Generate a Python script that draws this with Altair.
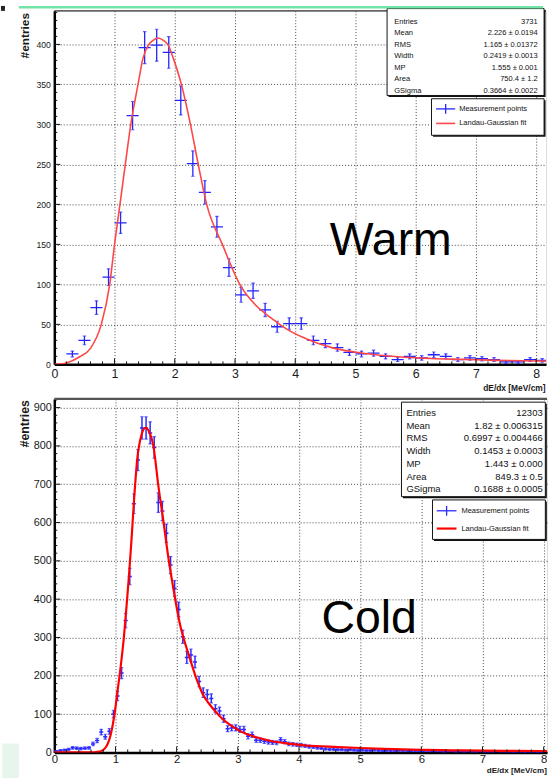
import altair as alt
import numpy as np
import pandas as pd

SANS = "Liberation Sans, Arial, Helvetica, sans-serif"

# ---------------- Warm run: dE/dx histogram, 0.2 MeV/cm bins ----------------
warm_centers = [0.3, 0.5, 0.7, 0.9, 1.1, 1.3, 1.5, 1.7, 1.9, 2.1, 2.3, 2.5, 2.7, 2.9,
                3.1, 3.3, 3.5, 3.7, 3.9, 4.1, 4.3, 4.5, 4.7, 4.9, 5.1, 5.3, 5.5, 5.7,
                5.9, 6.1, 6.3, 6.5, 6.7, 6.9, 7.1, 7.3, 7.5, 7.7, 7.9, 8.1]
warm_counts = [13, 30, 71, 109, 177, 311, 396, 399, 390, 330, 251, 215, 172, 121,
               87, 92, 68, 47, 51, 51, 30, 26, 21, 15, 13, 14, 10, 6,
               10, 8, 12, 10, 6, 8, 7, 6, 3, 3, 6, 5]
warm_bin_width = 0.2
# Landau-Gaussian fit curve (sampled)
warm_fit_x = [0.0, 0.1, 0.21, 0.42, 0.6, 0.78, 0.92, 1.0, 1.09, 1.17, 1.27, 1.39, 1.47,
              1.57, 1.64, 1.72, 1.81, 1.9, 1.96, 2.11, 2.26, 2.39, 2.53, 2.79, 3.08,
              3.37, 3.53, 3.69, 3.86, 4.18, 4.62, 5.16, 5.71, 6.25, 6.8, 7.34, 8.2]
warm_fit_y = [0, 0.5, 2, 9.5, 20, 50, 100, 150, 200, 245, 300, 350, 382,
              400, 405, 408, 405, 398, 386, 350, 300, 250, 200, 150, 100,
              72, 62, 53, 44, 32, 20.6, 13.6, 9.5, 7.4, 6.2, 5, 4]
warm_stat_values = ["3731", "2.226 \u00b1 0.0194", "1.165 \u00b1 0.01372", "0.2419 \u00b1 0.0013",
                    "1.555 \u00b1 0.001", "750.4 \u00b1 1.2", "0.3664 \u00b1 0.0022"]

# ---------------- Cold run: dE/dx histogram, 120 bins over 0-8 MeV/cm ----------------
cold_counts = [3, 5, 6, 8, 12, 11, 10, 11, 12,
               22, 31, 53, 41, 55,
               100, 147, 207, 344, 459, 649, 763,
               847, 847, 834, 796, 652, 630,
               572, 489, 428, 373, 302, 248, 254, 236,
               185, 156, 151, 141, 114, 108, 88, 62, 64, 64,
               60, 60, 42, 46, 32, 32, 29, 27, 26, 25,
               33, 28, 22, 21, 20, 19, 17, 15, 14, 12,
               11, 9, 8, 8, 7,
               7, 6, 7, 6, 5, 6, 5, 5, 6, 5,
               4, 5, 4, 4, 5, 4, 4, 3, 4, 3,
               3, 4, 3, 3, 3, 2, 3, 3, 2, 3,
               2, 3, 2, 2, 3, 2, 2, 2, 3, 2,
               2, 2, 1, 2, 2, 1, 2, 2, 1, 2]
cold_bin_width = 8.0 / 120
cold_centers = [round((i + 0.5) * cold_bin_width, 5) for i in range(len(cold_counts))]
cold_fit_x = [0.0, 0.55, 0.65, 0.7, 0.76, 0.845, 0.925, 0.98, 1.03, 1.085, 1.14, 1.18,
              1.22, 1.26, 1.3, 1.355, 1.42, 1.49, 1.56, 1.62, 1.7, 1.785, 1.865, 1.96,
              2.04, 2.215, 2.32, 2.43, 2.54, 2.65, 2.75, 2.91, 3.07, 3.29, 3.56, 3.83,
              4.1, 4.37, 4.64, 5.0, 5.39, 6.0, 6.5, 7.0, 7.5, 8.1]
cold_fit_y = [0, 0, 0.5, 1.2, 3, 14, 48, 95, 156, 224, 305, 380,
              460, 550, 650, 764, 826, 847, 834, 800, 697, 602, 508, 415,
              345, 246, 194, 151, 125, 104, 87, 68, 53, 40, 29, 23,
              18, 16, 14, 11.5, 9, 6.5, 5.5, 4.5, 4, 3.5]
cold_stat_values = ["12303", "1.82 \u00b1 0.006315", "0.6997 \u00b1 0.004466", "0.1453 \u00b1 0.0003",
                    "1.443 \u00b1 0.000", "849.3 \u00b1 0.5", "0.1688 \u00b1 0.0005"]

stat_names = ["Entries", "Mean", "RMS", "Width", "MP", "Area", "GSigma"]
legend_labels = ["Measurement points", "Landau-Gaussian fit"]

dummy = pd.DataFrame({"k": [0]})


def box(x0, y0, x1, y1, **kw):
    return alt.Chart(dummy).mark_rect(**kw).encode(
        x=alt.value(x0), x2=alt.value(x1), y=alt.value(y0), y2=alt.value(y1))


def seg(x0, y0, x1, y1, **kw):
    return alt.Chart(dummy).mark_rule(**kw).encode(
        x=alt.value(x0), x2=alt.value(x1), y=alt.value(y0), y2=alt.value(y1))


def label(txt, x, y, **kw):
    return alt.Chart(dummy).mark_text(**kw).encode(
        x=alt.value(x), y=alt.value(y), text=alt.value(txt))


def panel(s):
    W, H = s["W"], s["H"]
    xs = alt.Scale(domain=[0, s["xmax"]], nice=False, zero=False)
    ys = alt.Scale(domain=[0, s["ymax"]], nice=False, zero=False)

    pts = pd.DataFrame({"x": s["centers"], "n": s["counts"]})
    err = np.sqrt(pts["n"].astype(float))
    pts["lo"] = pts["n"] - err
    pts["hi"] = pts["n"] + err
    pts["x0"] = pts["x"] - s["bw"] / 2
    pts["x1"] = pts["x"] + s["bw"] / 2
    fit = pd.DataFrame({"x": s["fit_x"], "y": s["fit_y"]})

    grid = dict(grid=True, gridColor="#333333", gridDash=[1, 2], gridWidth=1, gridOpacity=0.9,
                ticks=False, labelFlush=False, labelOverlap=False,
                domainColor="#000000", domainWidth=2.5, labelColor="#1a1a1a", titleColor="#1a1a1a")
    xaxis = alt.Axis(values=list(range(0, 9)), format="d",
                     labelFont=SANS, labelFontSize=s["xlab_size"], labelPadding=s["xlab_pad"],
                     title="dE/dx [MeV/cm]", titleFont=SANS, titleFontSize=s["xtitle_size"],
                     titleFontWeight="bold", titleAlign="right", titleBaseline="alphabetic",
                     titleX=s["xtitle_x"], titleY=s["xtitle_y"], **grid)
    yaxis = alt.Axis(values=s["yvals"], format="d",
                     labelFont=SANS, labelFontSize=s["ylab_size"], labelPadding=s["ylab_pad"],
                     title="#entries", titleFont=SANS, titleFontSize=s["ytitle_size"],
                     titleFontWeight="bold", titleAngle=270, titleAlign="right",
                     titleBaseline="alphabetic", titleX=s["ytitle_x"], titleY=s["ytitle_y"], **grid)

    def X(field):
        return alt.X(field, scale=xs, axis=xaxis)

    def Y(field):
        return alt.Y(field, scale=ys, axis=yaxis)

    # error bars: vertical sqrt(N) bars, horizontal bin-width bars, small end caps
    vbars = alt.Chart(pts).mark_rule(color=s["blue"], strokeWidth=s["bar_w"], clip=True).encode(
        x=X("x:Q"), y=Y("lo:Q"), y2="hi:Q")
    hbars = alt.Chart(pts).mark_rule(color=s["blue"], strokeWidth=s["bar_w"], clip=True).encode(
        x=X("x0:Q"), x2="x1:Q", y=Y("n:Q"))
    caps_hi = alt.Chart(pts).mark_tick(color=s["blue"], orient="horizontal", size=3.5,
                                       thickness=1.2, clip=True).encode(x=X("x:Q"), y=Y("hi:Q"))
    caps_lo = alt.Chart(pts).mark_tick(color=s["blue"], orient="horizontal", size=3.5,
                                       thickness=1.2, clip=True).encode(x=X("x:Q"), y=Y("lo:Q"))
    curve = alt.Chart(fit).mark_line(color=s["red"], strokeWidth=s["red_w"],
                                     interpolate="monotone", clip=True).encode(
        x=X("x:Q"), y=Y("y:Q"))

    # tick marks drawn on the inner side of the frame
    xmaj = [t for t in range(1, 9)]
    xmin = [round(i * 0.2, 2) for i in range(1, 45) if i % 5 and i * 0.2 < s["xmax"]]
    ymaj = [v for v in s["yvals"] if v > 0]
    ymin = [v for v in range(s["ystep"] // 5, int(s["ymax"]), s["ystep"] // 5)
            if v % s["ystep"]]

    def xticks(vals, ln):
        return alt.Chart(pd.DataFrame({"t": vals})).mark_rule(color="#111", strokeWidth=1).encode(
            x=X("t:Q"), y=alt.value(H), y2=alt.value(H - ln))

    def yticks(vals, ln):
        return alt.Chart(pd.DataFrame({"t": vals})).mark_rule(color="#111", strokeWidth=1).encode(
            y=Y("t:Q"), x=alt.value(0), x2=alt.value(ln))

    frame_top = seg(0, 0, W, 0, color=s["frame_color"], strokeWidth=s["frame_w"])

    # statistics box
    sx0, sy0, sx1, sy1 = s["stats_box"]
    stats = [
        box(sx0 + 1.5, sy0 + 1.5, sx1 + 1.5, sy1 + 1.5, color="#111"),
        box(sx0, sy0, sx1, sy1, fill="white", stroke="#111", strokeWidth=1),
        label("\n".join(stat_names), s["stats_lx"], s["stats_y"], align="left", baseline="top",
              font=SANS, fontSize=s["stats_size"], lineBreak="\n", lineHeight=s["stats_lh"],
              color="#111"),
        label("\n".join(s["stat_values"]), s["stats_rx"], s["stats_y"], align="right",
              baseline="top", font=SANS, fontSize=s["stats_size"], lineBreak="\n",
              lineHeight=s["stats_lh"], color="#111"),
    ]

    # legend box
    lx0, ly0, lx1, ly1 = s["leg_box"]
    e1, e2 = s["leg_y"]
    sa, sb = s["leg_sym"]
    leg = [
        box(lx0 + 1.5, ly0 + 1.5, lx1 + 1.5, ly1 + 1.5, color="#111"),
        box(lx0, ly0, lx1, ly1, fill="white", stroke="#111", strokeWidth=1),
        seg(sa, e1, sb, e1, color=s["blue"], strokeWidth=1.3),
        seg((sa + sb) / 2, e1 - 5, (sa + sb) / 2, e1 + 5, color=s["blue"], strokeWidth=1.3),
        seg(sa, e2, sb, e2, color=s["red"], strokeWidth=s["red_w"]),
        label(legend_labels[0], s["leg_tx"], e1, align="left", baseline="middle",
              font=SANS, fontSize=7.6, color="#111"),
        label(legend_labels[1], s["leg_tx"], e2, align="left", baseline="middle",
              font=SANS, fontSize=7.6, color="#111"),
    ]

    deco = [box(*r[:4], color=r[4]) for r in s["deco"]]

    big = label(s["name"], s["name_xy"][0], s["name_xy"][1], align="left", baseline="alphabetic",
                font=SANS, fontSize=47, color="#000")

    layers = ([vbars, hbars, caps_hi, caps_lo, curve, xticks(xmaj, 6), xticks(xmin, 3),
               yticks(ymaj, 6), yticks(ymin, 3), frame_top] + stats + leg + [big] + deco)
    return alt.layer(*layers).properties(width=W, height=H)


warm = dict(
    name="Warm", name_xy=(279, 247),
    centers=warm_centers, counts=warm_counts, bw=warm_bin_width,
    fit_x=warm_fit_x, fit_y=warm_fit_y, stat_values=warm_stat_values,
    W=498, H=358, xmax=498 / 61.0, ymax=358 / 0.81,
    yvals=list(range(0, 401, 50)), ystep=50,
    xlab_size=12.5, xlab_pad=3, xtitle_size=8.5, xtitle_x=497, xtitle_y=26.5,
    ylab_size=8.8, ylab_pad=4, ytitle_size=12, ytitle_x=-25.7, ytitle_y=1.7,
    blue="#2323ff", bar_w=1.3, red="#ff4646", red_w=1.6,
    frame_color="#333333", frame_w=1.3,
    stats_box=(337, -2.3, 496, 85.7), stats_lx=344.3, stats_rx=489.5, stats_y=7.4,
    stats_size=7.6, stats_lh=11.55,
    leg_box=(382, 89, 496, 126), leg_y=(99.3, 114), leg_sym=(386.7, 406), leg_tx=410,
    deco=[(-36, -5, 495, -2.5, "#74e3a8"), (-54, -5, -50, 0, "#222222")],
)

cold = dict(
    name="Cold", name_xy=(270.6, 237.3),
    centers=cold_centers, counts=cold_counts, bw=cold_bin_width,
    fit_x=cold_fit_x, fit_y=cold_fit_y, stat_values=cold_stat_values,
    W=499, H=358, xmax=499 / 61.95, ymax=358 / 0.388,
    yvals=list(range(0, 901, 100)), ystep=100,
    xlab_size=11.5, xlab_pad=1.5, xtitle_size=8.2, xtitle_x=498.4, xtitle_y=20.8,
    ylab_size=11, ylab_pad=3, ytitle_size=12.5, ytitle_x=-26.5, ytitle_y=0.7,
    blue="#2a2aff", bar_w=1.5, red="#ff0000", red_w=2.2,
    frame_color="#555555", frame_w=2.3,
    stats_box=(351.6, 3.3, 497.3, 99), stats_lx=356.6, stats_rx=494.6, stats_y=9.2,
    stats_size=9.6, stats_lh=12.9,
    leg_box=(383, 102.3, 497.3, 142.3), leg_y=(113.3, 131.3), leg_sym=(387.3, 407.3), leg_tx=412.3,
    deco=[(-52.7, 349, -35.7, 384, "#e6f6ec")],
)

chart = alt.vconcat(panel(warm), panel(cold), spacing=4).properties(
    padding=0
).configure_view(stroke=None).configure(font=SANS)

chart.save("out.html", embed_options={"renderer": "svg", "actions": False})
